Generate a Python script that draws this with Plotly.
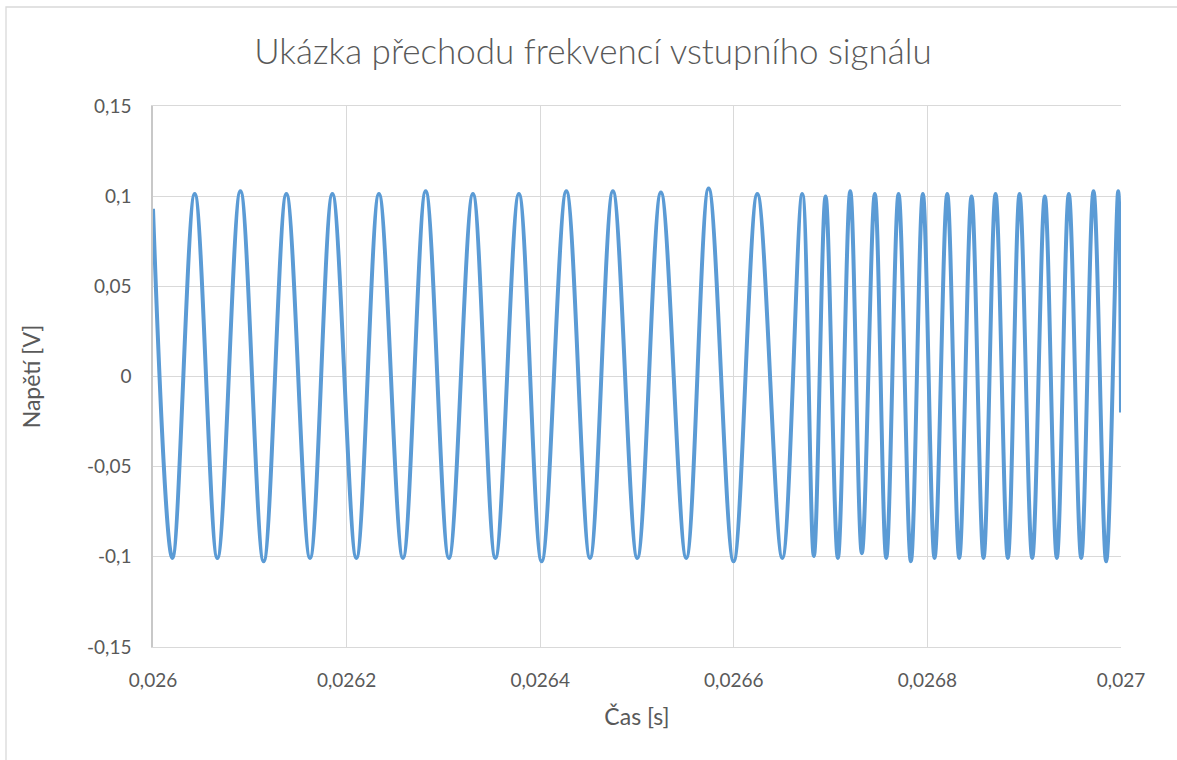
import plotly.graph_objects as go

cas_s = [
    0.0260000, 0.0260200, 0.0260431, 0.0260665, 0.0260903, 0.0261143, 0.0261378,
    0.0261622, 0.0261853, 0.0262101, 0.0262334, 0.0262582, 0.0262817, 0.0263057,
    0.0263305, 0.0263537, 0.0263780, 0.0264015, 0.0264270, 0.0264514, 0.0264751,
    0.0265003, 0.0265247, 0.0265509, 0.0265740, 0.0265998, 0.0266243, 0.0266501,
    0.0266707, 0.0266827, 0.0266948, 0.0267075, 0.0267203, 0.0267323, 0.0267457,
    0.0267575, 0.0267702, 0.0267829, 0.0267953, 0.0268074, 0.0268205, 0.0268329,
    0.0268456, 0.0268580, 0.0268704, 0.0268831, 0.0268952, 0.0269083, 0.0269213,
    0.0269337, 0.0269461, 0.0269589, 0.0269716, 0.0269847, 0.0269971, 0.0270000,
]
napeti_v = [
    0.093, -0.1006, 0.1012, -0.1006, 0.1027, -0.1025, 0.1012,
    -0.1006, 0.1012, -0.1006, 0.1012, -0.1006, 0.1027, -0.1006,
    0.1012, -0.1006, 0.1012, -0.1025, 0.1027, -0.1006, 0.1027,
    -0.1006, 0.1020, -0.1006, 0.1043, -0.1025, 0.1012, -0.1006,
    0.1012, -0.0995, 0.0998, -0.1006, 0.1027, -0.0980, 0.1012,
    -0.1006, 0.1012, -0.1025, 0.1012, -0.1006, 0.1012, -0.1006,
    0.0998, -0.1006, 0.1012, -0.1006, 0.1012, -0.1006, 0.0998,
    -0.1006, 0.1012, -0.1006, 0.1027, -0.1025, 0.1027, -0.02,
]

x_tickvals = [0.026, 0.0262, 0.0264, 0.0266, 0.0268, 0.027]
x_ticktext = ["0,026", "0,0262", "0,0264", "0,0266", "0,0268", "0,027"]
y_tickvals = [0.15, 0.1, 0.05, 0, -0.05, -0.1, -0.15]
y_ticktext = ["0,15", "0,1", "0,05", "0", "-0,05", "-0,1", "-0,15"]

title_text = "Ukázka přechodu frekvencí vstupního signálu"
x_title = "Čas [s]"
y_title = "Napětí [V]"

FONT = "Lato, 'Open Sans', sans-serif"
TXT = "#595959"
GRID = "#d9d9d9"

fig = go.Figure()
fig.add_trace(go.Scatter(
    x=cas_s, y=napeti_v, mode="lines",
    line=dict(color="#5B9BD5", width=4, shape="spline", smoothing=1.0),
    showlegend=False, hoverinfo="x+y",
))

L, R, T, B = 153, 56, 106, 113
W, H = 1177, 760
pw = W - L - R
ph = H - T - B

fig.update_layout(
    width=W, height=H,
    margin=dict(l=L, r=R, t=T, b=B, autoexpand=False),
    paper_bgcolor="white", plot_bgcolor="white",
    title=dict(text=title_text, x=593 / W, xanchor="center",
               y=1 - 52 / H, yanchor="middle",
               font=dict(family=FONT, size=35, color=TXT, weight=300)),
    font=dict(family=FONT, color=TXT),
    xaxis=dict(
        range=[0.026, 0.027], tickvals=x_tickvals, ticktext=x_ticktext,
        showgrid=True, gridcolor=GRID, gridwidth=1.3,
        showline=True, linecolor=GRID, linewidth=1.3, mirror=True,
        zeroline=False, ticks="", ticklabelstandoff=16,
        tickfont=dict(family=FONT, size=19, color=TXT),
        title=dict(text=x_title, font=dict(family=FONT, size=23, color=TXT), standoff=18),
    ),
    yaxis=dict(
        range=[-0.15, 0.15], tickvals=y_tickvals, ticktext=y_ticktext,
        showgrid=True, gridcolor=GRID, gridwidth=1.3,
        showline=True, linecolor="#c8c8c8", linewidth=1.5, mirror=False,
        zeroline=False, ticks="", ticklabelstandoff=16,
        tickfont=dict(family=FONT, size=19, color=TXT),
        title=dict(text=y_title, font=dict(family=FONT, size=23, color=TXT), standoff=40),
    ),
)

# outer chart border (light grey frame like the spreadsheet chart area)
fig.add_shape(type="rect", xref="paper", yref="paper",
              x0=(6 - L) / pw, x1=(W + 5 - L) / pw,
              y0=(H - B - (H + 5)) / ph, y1=(H - B - 7) / ph,
              line=dict(color=GRID, width=1.3), fillcolor="rgba(0,0,0,0)", layer="below")

fig.write_html("out.html",
               config={"displayModeBar": False},
               post_script="document.body.style.margin='0';document.body.style.overflow='hidden';")
